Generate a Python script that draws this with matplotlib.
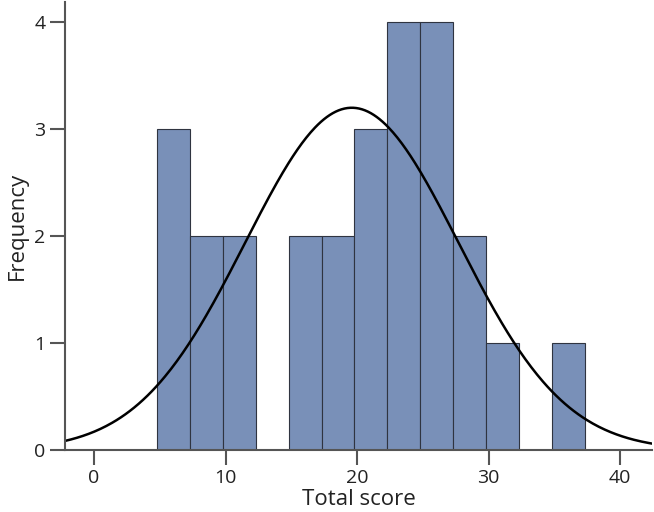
import numpy as np
import matplotlib.pyplot as plt

plt.rcParams['font.family'] = ['Open Sans', 'DejaVu Sans']

# Данные гистограммы
bin_starts = [4.8, 7.3, 9.8, 12.3, 14.8, 17.3, 19.8, 22.3, 24.8, 27.3, 29.8, 32.3, 34.8]
counts = [3, 2, 2, 0, 2, 2, 3, 4, 4, 2, 1, 0, 1]
bin_width = 2.5
mean_score = 19.6
sd_score = 8.1
n_total = sum(counts)

fig = plt.figure(figsize=(6.54, 5.12), dpi=100)
ax = fig.add_axes([0.0995, 0.121, 0.897, 0.875])

ax.bar(bin_starts, counts, width=bin_width, align='edge',
       color='#7990b8', edgecolor='#2f3440', linewidth=0.8)

# Нормальная кривая
xs = np.linspace(-2.2, 42.4, 400)
ys = n_total * bin_width / (sd_score * np.sqrt(2 * np.pi)) * np.exp(-0.5 * ((xs - mean_score) / sd_score) ** 2)
ax.plot(xs, ys, color='black', linewidth=1.8)

ax.set_xlim(-2.2, 42.4)
ax.set_ylim(0, 4.19)
ax.set_xticks([0, 10, 20, 30, 40])
ax.set_yticks([0, 1, 2, 3, 4])

for side in ['top', 'right']:
    ax.spines[side].set_visible(False)
for side in ['left', 'bottom']:
    ax.spines[side].set_color('#555555')
    ax.spines[side].set_linewidth(1.5)
ax.tick_params(direction='out', length=11, width=1.5, color='#555555',
               labelsize=14, labelcolor='#222222', pad=3)

ax.set_xlabel('Total score', fontsize=16, color='#222222', labelpad=1)
ax.set_ylabel('Frequency', fontsize=16, color='#222222', labelpad=5)

fig.savefig('out.png', dpi=100)
